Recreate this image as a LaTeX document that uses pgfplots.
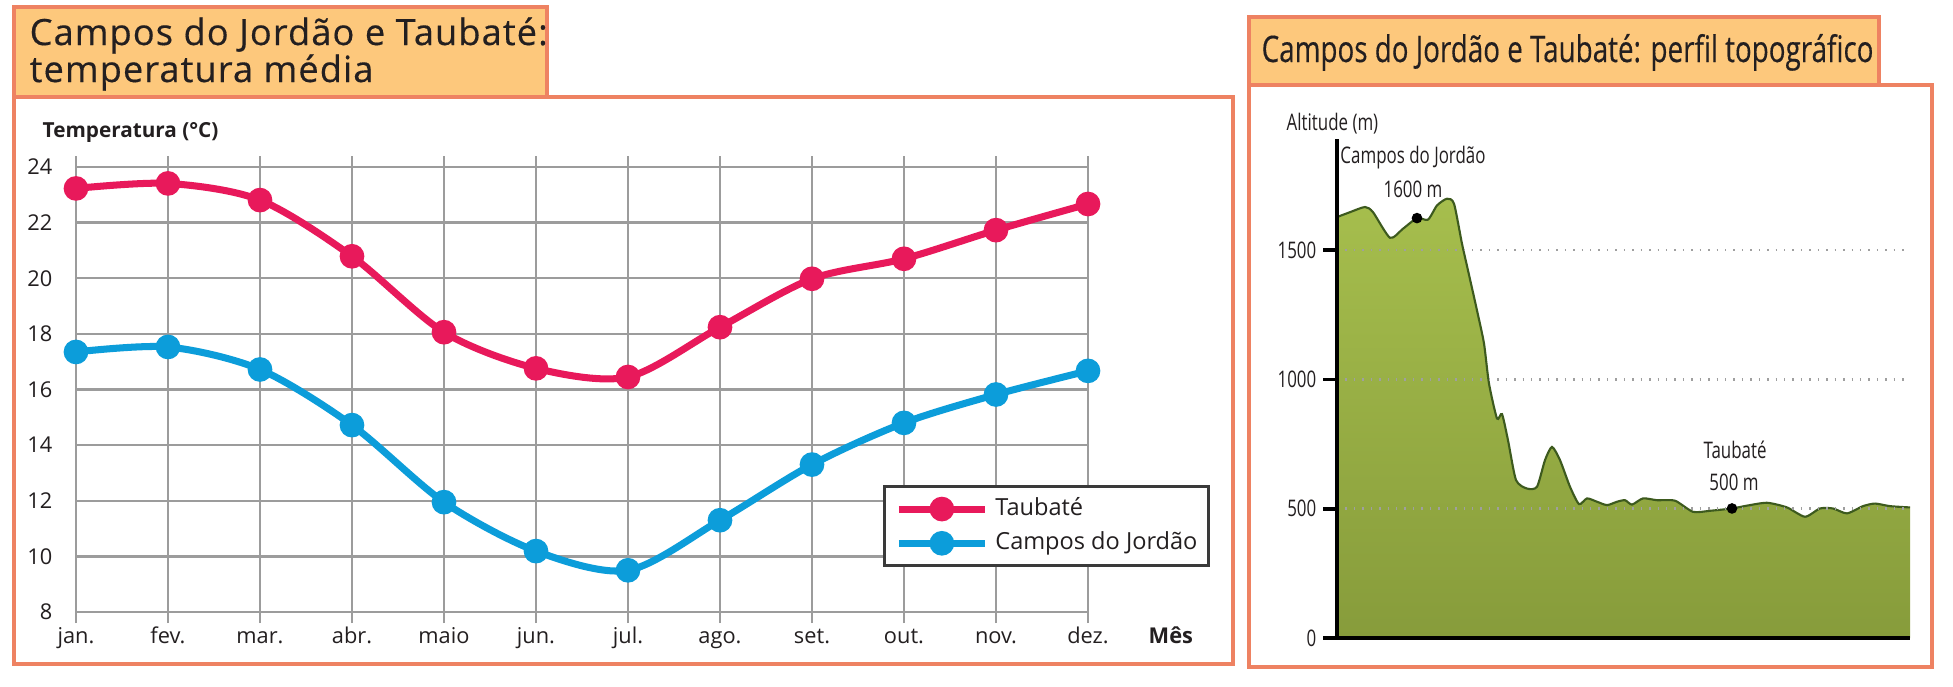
\documentclass[border=0pt]{standalone}
\usepackage{pgfplots}
\pgfplotsset{compat=1.18}
\usepackage{pgfplotstable}
\usepackage{fontspec}
\setmainfont{Open Sans}
\newfontfamily\titlefont[LetterSpace=3,FakeBold=0.35]{Open Sans}
\newfontfamily\cond[FakeStretch=0.74]{Open Sans}
\newfontfamily\condT[FakeStretch=0.76,FakeBold=0.3]{Open Sans}

\definecolor{tred}{HTML}{E8195B}
\definecolor{cblue}{HTML}{0C9DDA}
\definecolor{gridgray}{HTML}{9C9C9C}
\definecolor{framec}{HTML}{EE8262}
\definecolor{tfill}{HTML}{FDC87C}
\definecolor{textc}{HTML}{231F20}
\definecolor{gtop}{HTML}{A6BE4D}
\definecolor{gbot}{HTML}{879C3B}
\definecolor{gline}{HTML}{3D5A1E}
\definecolor{legendgray}{HTML}{3A3A3A}

\pgfplotstableread{
m taubate campos
0 23.23 17.35
1 23.41 17.53
2 22.81 16.72
3 20.79 14.72
4 18.06 11.95
5 16.76 10.19
6 16.45 9.50
7 18.24 11.30
8 19.98 13.30
9 20.70 14.80
10 21.73 15.82
11 22.67 16.67
}\temps

\pgfplotstableread{
d alt
0 1628
13 1647
28 1667
36 1647
53 1548
66 1583
80 1624
91 1618
100 1673
110 1699
117 1680
125 1525
131 1422
140 1267
147 1139
152 984
160 849
165 866
171 765
179 611
190 578
200 585
208 688
215 739
223 688
233 585
242 518
250 540
260 527
270 514
280 527
288 533
295 516
306 540
320 533
338 531
356 488
373 492
395 501
410 512
430 523
450 505
468 469
483 501
496 501
510 482
526 510
538 520
553 510
573 505
}\profile

\begin{document}
\begin{tikzpicture}
\useasboundingbox (0,0) rectangle (19.53,6.86);
% ---- left panel frames
\draw[framec, line width=1.1pt, fill=white] (0.14,0.22) rectangle (12.33,5.89);
\draw[framec, line width=1.1pt, fill=tfill] (0.14,5.89) rectangle (5.47,6.79);
\node[anchor=base west, inner sep=0, text=textc, font=\titlefont\fontsize{10.3}{12}\selectfont] at (0.29,6.41) {Campos do Jordão e Taubaté:};
\node[anchor=base west, inner sep=0, text=textc, font=\titlefont\fontsize{10.3}{12}\selectfont] at (0.29,6.04) {temperatura média};
\node[anchor=base west, inner sep=0, text=textc, font=\bfseries\fontsize{5.9}{7}\selectfont] at (0.42,5.49) {Temperatura (°C)};
% ---- right panel frames
\draw[framec, line width=1.1pt, fill=white] (12.49,0.19) rectangle (19.32,6.01);
\draw[framec, line width=1.1pt, fill=tfill] (12.49,6.01) rectangle (18.79,6.69);
\node[anchor=base west, inner sep=0, text=textc, font=\condT\fontsize{10.4}{12}\selectfont] at (12.61,6.24) {Campos do Jordão e Taubaté: perfil topográfico};
\node[anchor=base west, inner sep=0, text=textc, font=\cond\fontsize{6.5}{8}\selectfont] at (12.86,5.56) {Altitude (m)};

% ---- left chart
\begin{scope}[shift={(0.76cm,0.74cm)}]
\begin{axis}[
  at={(0cm,0cm)}, anchor=south west, scale only axis,
  width=10.12cm, height=4.45cm,
  xmin=0, xmax=11, ymin=8, ymax=24,
  /pgf/number format/assume math mode=true,
  xtick={0,...,11},
  xticklabels={jan.,fev.,mar.,abr.,maio,jun.,jul.,ago.,set.,out.,nov.,dez.},
  ytick={8,10,...,24},
  grid=major, grid style={color=gridgray, line width=0.7pt},
  axis line style={draw=none},
  tick align=outside, major tick length=0.11cm,
  xtick style={color=gridgray, line width=0.7pt},
  ytick style={draw=none},
  tick label style={font=\fontsize{6.2}{7}\selectfont, text=textc},
  xticklabel style={anchor=base, yshift=-0.20cm},
  yticklabel style={anchor=east, inner sep=0pt, xshift=-0.12cm},
  clip=false,
  legend style={at={(0.7974,0.2854)}, anchor=north west, draw=legendgray, line width=0.8pt,
    fill=white, inner xsep=0.11cm, inner ysep=0.11cm, row sep=0.11cm,
    font=\fontsize{6.7}{8}\selectfont, text=textc, nodes={inner sep=0pt},
    /tikz/every odd column/.append style={column sep=0.07cm}},
  legend cell align=left,
  legend image code/.code={\draw[mark repeat=2,mark phase=2,#1] plot coordinates {(0cm,0cm) (0.43cm,0cm) (0.86cm,0cm)};},
]
\addplot[tred, line width=2pt, smooth, mark=*, mark size=2.5pt] table[x=m, y=taubate] {\temps};
\addlegendentry{Taubaté}
\addplot[cblue, line width=2pt, smooth, mark=*, mark size=2.5pt] table[x=m, y=campos] {\temps};
\addlegendentry{Campos do Jordão}
\node[anchor=base west, inner sep=0, text=textc, font=\bfseries\fontsize{6.2}{7}\selectfont] at (rel axis cs:1,0) [xshift=0.6cm, yshift=-0.31cm] {Mês};
\end{axis}
\end{scope}

% ---- right chart
\begin{scope}[shift={(13.37cm,0.48cm)}]
\begin{axis}[
  at={(0cm,0cm)}, anchor=south west, scale only axis,
  width=5.73cm, height=4.99cm,
  xmin=0, xmax=573, ymin=0, ymax=1930,
  /pgf/number format/assume math mode=true,
  /pgf/number format/1000 sep={},
  axis x line=bottom, axis y line=left,
  axis line style={-},
  x axis line style={-, line width=1.1pt, black},
  y axis line style={-, line width=1.0pt, black},
  xtick=\empty,
  ytick={0,500,1000,1500},
  ytick style={line width=1.1pt, black},
  tick align=outside, major tick length=0.14cm,
  ymajorgrids, grid style={dotted, gray!75, line width=0.7pt},
  yticklabel style={font=\cond\fontsize{6.5}{7}\selectfont, text=textc, anchor=east, inner sep=0pt, xshift=-0.06cm},
  axis on top, clip=false,
]
\addplot[draw=none, top color=gtop, bottom color=gbot, smooth, tension=0.4] table[x=d, y=alt] {\profile} \closedcycle;
\addplot[gline, line width=0.6pt, smooth, tension=0.4] table[x=d, y=alt] {\profile};
\addplot[only marks, mark=*, mark size=1.3pt, black] coordinates {(80,1624) (395,501)};
\node[text=textc, inner sep=0, font=\cond\fontsize{6.5}{8}\selectfont] at (axis cs:76,1858) {Campos do Jordão};
\node[text=textc, inner sep=0, font=\cond\fontsize{6.5}{8}\selectfont] at (axis cs:76,1735) {1600 m};
\node[text=textc, inner sep=0, font=\cond\fontsize{6.5}{8}\selectfont] at (axis cs:398,728) {Taubaté};
\node[text=textc, inner sep=0, font=\cond\fontsize{6.5}{8}\selectfont] at (axis cs:397,603) {500 m};
\end{axis}
\end{scope}
\end{tikzpicture}
\end{document}
